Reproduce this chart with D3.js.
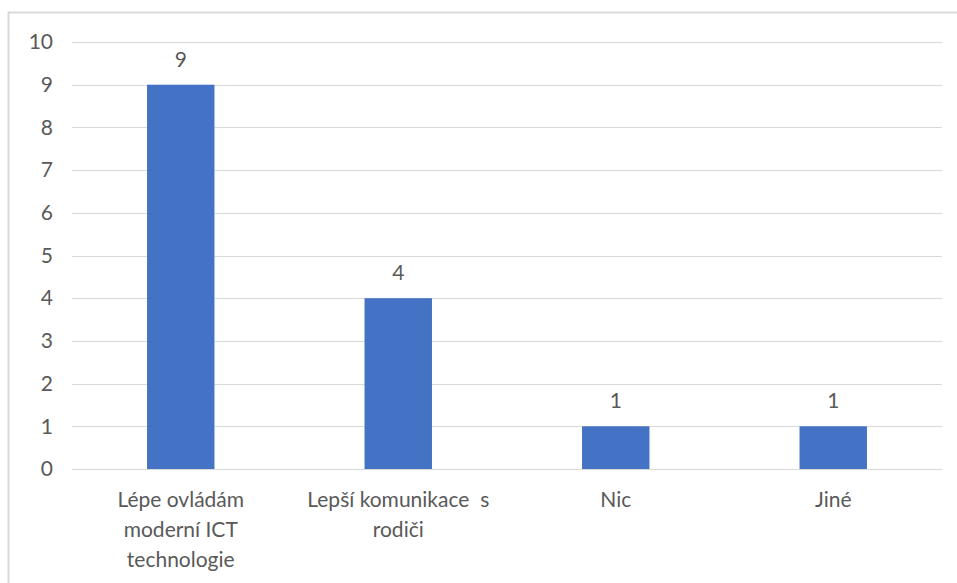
<!DOCTYPE html>
<html><head><meta charset="utf-8">
<script src="https://cdn.jsdelivr.net/npm/d3@7"></script>
<style>body{margin:0;background:#fff;}svg{display:block;} text{white-space:pre;}</style>
</head><body>
<svg id="c" width="957" height="583"></svg>
<script>
const categories = [["Lépe ovládám","moderní ICT","technologie"],["Lepší komunikace  s","rodiči"],["Nic"],["Jiné"]];
const values = [9, 4, 1, 1];
const yTicks = [0,1,2,3,4,5,6,7,8,9,10];

const svg = d3.select("#c");
const font = "Lato, 'Liberation Sans', sans-serif";
const textColor = "#595959";

// frame
svg.append("rect").attr("x",8.5).attr("y",12.5).attr("width",960).attr("height",600)
  .attr("fill","#fff").attr("stroke","#d9d9d9").attr("stroke-width",2);

const x = d3.scaleBand().domain(d3.range(categories.length)).range([72,942]).paddingInner(0.69).paddingOuter(0.345);
const y = d3.scaleLinear().domain([0,10]).range([469,42]);

const g = svg.append("g");
g.selectAll("line.grid").data(yTicks).join("line").attr("class","grid")
  .attr("x1",72).attr("x2",942).attr("y1",d=>Math.round(y(d))+0.5).attr("y2",d=>Math.round(y(d))+0.5)
  .attr("stroke","#d9d9d9").attr("stroke-width",1);

const yAxis = d3.axisLeft(y).tickValues(yTicks).tickSize(0).tickPadding(0).tickFormat(d3.format("d"));
const ya = svg.append("g").attr("transform","translate(53,0)").call(yAxis);
ya.select(".domain").remove();
ya.selectAll("text").attr("fill",textColor).style("font-family",font).style("font-size","21px");

g.selectAll("rect.bar").data(values).join("rect").attr("class","bar")
  .attr("x",(d,i)=>x(i)).attr("width",x.bandwidth())
  .attr("y",d=>y(d)).attr("height",d=>y(0)-y(d)).attr("fill","#4472c4");

g.selectAll("text.val").data(values).join("text").attr("class","val")
  .attr("x",(d,i)=>x(i)+x.bandwidth()/2).attr("y",d=>y(d)-18)
  .attr("text-anchor","middle").attr("fill",textColor)
  .style("font-family",font).style("font-size","21px").text(d=>d);

const xl = g.selectAll("text.xl").data(categories).join("text").attr("class","xl")
  .attr("text-anchor","middle").attr("fill",textColor)
  .style("font-family",font).style("font-size","21px");
xl.each(function(lines,i){
  const t = d3.select(this);
  lines.forEach((s,j)=>{
    t.append("tspan").attr("x",x(i)+x.bandwidth()/2).attr("y",507+j*30).text(s);
  });
});
</script>
</body></html>
